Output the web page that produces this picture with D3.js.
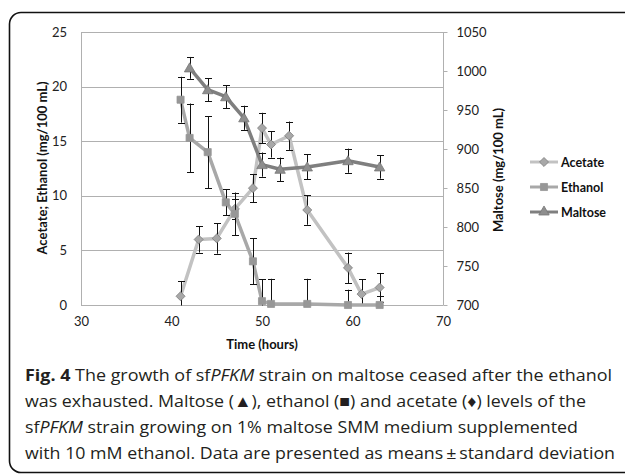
<!DOCTYPE html>
<html>
<head>
<meta charset="utf-8">
<script src="https://cdn.jsdelivr.net/npm/d3@7"></script>
<style>
  html, body { margin: 0; padding: 0; background: #fff; overflow: hidden; }
  svg { display: block; }
</style>
</head>
<body>
<svg id="chart" width="625" height="474"></svg>
<script>
// Sampling times (hours) and measured levels with standard deviations
const acetateTime = [41, 43, 45, 47, 49, 50, 51, 53, 55, 59.5, 61, 63];
const acetateMean = [0.8, 6.0, 6.1, 8.8, 10.7, 16.2, 14.7, 15.5, 8.7, 3.4, 1.0, 1.6];
const acetateSD   = [1.4, 1.2, 1.4, 0.9, 1.3, 1.4, 1.2, 1.3, 1.35, 1.4, 1.35, 1.3];

const ethanolTime = [41, 42, 44, 46, 47, 49, 50, 51, 55, 59.5, 63];
const ethanolMean = [18.8, 15.3, 14.0, 9.4, 8.35, 4.0, 0.35, 0.1, 0.1, 0.0, 0.0];
const ethanolSD   = [2.1, 3.15, 3.3, 1.2, 1.95, 2.1, 2.0, 2.3, 2.3, 1.4, 0.8];

const maltoseTime = [42, 44, 46, 48, 50, 52, 55, 59.5, 63];
const maltoseMean = [1004, 976, 967, 940, 880, 874, 877, 885, 877];
const maltoseSD   = [14, 15, 15, 15.5, 15.5, 15, 16, 15.5, 15];

const xTicks = [30, 40, 50, 60, 70];
const leftTicks = [0, 5, 10, 15, 20, 25];
const rightTicks = [700, 750, 800, 850, 900, 950, 1000, 1050];

const seriesNames = ["Acetate", "Ethanol", "Maltose"];

const svg = d3.select("#chart");
const plot = { left: 81, right: 443, top: 32, bottom: 305 };
const chartFont = "Lato, 'Open Sans', sans-serif";

const x = d3.scaleLinear().domain([30, 70]).range([plot.left, plot.right]);
const yL = d3.scaleLinear().domain([0, 25]).range([plot.bottom, plot.top]);
const yR = d3.scaleLinear().domain([700, 1050]).range([plot.bottom, plot.top]);

// Figure frame: open on the right, rounded on the left corners
svg.append("path")
  .attr("d", "M 640 12.5 H 21 A 11.5 11.5 0 0 0 9.5 24 V 461 A 11.5 11.5 0 0 0 21 472.5 H 640")
  .attr("fill", "none").attr("stroke", "#111").attr("stroke-width", 1.6);

// Horizontal gridlines from the primary axis
const gridG = svg.append("g");
gridG.selectAll("line").data(leftTicks).join("line")
  .attr("x1", plot.left).attr("x2", plot.right)
  .attr("y1", d => Math.round(yL(d)) + 0.5).attr("y2", d => Math.round(yL(d)) + 0.5)
  .attr("stroke", "#b0b0b0").attr("stroke-width", 1);

// Axis lines
svg.append("line").attr("x1", plot.left + 0.5).attr("x2", plot.left + 0.5)
  .attr("y1", plot.top).attr("y2", plot.bottom).attr("stroke", "#b0b0b0");
svg.append("line").attr("x1", plot.right + 0.5).attr("x2", plot.right + 0.5)
  .attr("y1", plot.top).attr("y2", plot.bottom + 0.5).attr("stroke", "#b0b0b0");

// Left axis labels
const axisL = d3.axisLeft(yL).tickValues(leftTicks).tickSize(0).tickPadding(14);
const gL = svg.append("g").attr("transform", `translate(${plot.left},0)`).call(axisL);
gL.select(".domain").remove();
gL.selectAll("text").attr("font-family", chartFont).attr("font-size", 13).attr("fill", "#222");

// Right axis with small outside ticks
const axisR = d3.axisRight(yR).tickValues(rightTicks).tickSize(4).tickPadding(9)
  .tickFormat(d3.format("d"));
const gR = svg.append("g").attr("transform", `translate(${plot.right + 0.5},0)`).call(axisR);
gR.select(".domain").remove();
gR.selectAll("line").attr("stroke", "#b0b0b0");
gR.selectAll("text").attr("font-family", chartFont).attr("font-size", 13).attr("fill", "#222");

// Bottom axis labels
const axisB = d3.axisBottom(x).tickValues(xTicks).tickSize(0).tickPadding(12);
const gB = svg.append("g").attr("transform", `translate(0,${plot.bottom})`).call(axisB);
gB.select(".domain").remove();
gB.selectAll("text").attr("font-family", chartFont).attr("font-size", 13).attr("fill", "#222");

// Axis titles
svg.append("text")
  .attr("transform", `translate(47,168) rotate(-90)`)
  .attr("text-anchor", "middle")
  .attr("font-family", chartFont).attr("font-weight", "bold").attr("font-size", 13)
  .attr("fill", "#111")
  .text("Acetate; Ethanol (mg/100 mL)");
svg.append("text")
  .attr("transform", `translate(503,170) rotate(-90)`)
  .attr("text-anchor", "middle")
  .attr("font-family", chartFont).attr("font-weight", "bold").attr("font-size", 13)
  .attr("fill", "#111")
  .text("Maltose (mg/100 mL)");
svg.append("text")
  .attr("x", (plot.left + plot.right) / 2).attr("y", 349)
  .attr("text-anchor", "middle")
  .attr("font-family", chartFont).attr("font-weight", "bold").attr("font-size", 13)
  .attr("fill", "#111")
  .text("Time (hours)");

// Clip region for error bars (they stop at the plot area)
svg.append("clipPath").attr("id", "plotClip")
  .append("rect").attr("x", plot.left).attr("y", plot.top)
  .attr("width", plot.right - plot.left).attr("height", plot.bottom - plot.top + 0.5);

const series = [
  { name: "Acetate", t: acetateTime, m: acetateMean, sd: acetateSD, y: yL,
    line: "#c2c2c2", fill: "#a8a8a8", stroke: "#7c7c7c", marker: "diamond" },
  { name: "Ethanol", t: ethanolTime, m: ethanolMean, sd: ethanolSD, y: yL,
    line: "#a8a8a8", fill: "#979797", stroke: "#979797", marker: "square" },
  { name: "Maltose", t: maltoseTime, m: maltoseMean, sd: maltoseSD, y: yR,
    line: "#7f7f7f", fill: "#8e8e8e", stroke: "#767676", marker: "triangle" }
];

const symbolFor = {
  diamond: d3.symbol().type(d3.symbolDiamond2).size(52),
  square: d3.symbol().type(d3.symbolSquare2).size(64),
  triangle: d3.symbol().type(d3.symbolTriangle2).size(78)
};

series.forEach(s => {
  const pts = s.t.map((t, i) => ({ t, m: s.m[i], sd: s.sd[i] }));
  const g = svg.append("g");

  g.append("path").datum(pts)
    .attr("d", d3.line().x(d => x(d.t)).y(d => s.y(d.m)))
    .attr("fill", "none").attr("stroke", s.line).attr("stroke-width", 3.5)
    .attr("stroke-linejoin", "round");

  const eb = g.append("g").attr("clip-path", "url(#plotClip)");
  eb.selectAll("line.v").data(pts).join("line").attr("class", "v")
    .attr("x1", d => Math.round(x(d.t)) + 0.5).attr("x2", d => Math.round(x(d.t)) + 0.5)
    .attr("y1", d => s.y(d.m - d.sd)).attr("y2", d => s.y(d.m + d.sd))
    .attr("stroke", "#111").attr("stroke-width", 1);
  ["top", "bot"].forEach(k => {
    eb.selectAll("line." + k).data(pts).join("line").attr("class", k)
      .attr("x1", d => Math.round(x(d.t)) - 3).attr("x2", d => Math.round(x(d.t)) + 4)
      .attr("y1", d => Math.round(s.y(k === "top" ? d.m + d.sd : d.m - d.sd)) + 0.5)
      .attr("y2", d => Math.round(s.y(k === "top" ? d.m + d.sd : d.m - d.sd)) + 0.5)
      .attr("stroke", "#111").attr("stroke-width", 1);
  });

  g.selectAll("path.mk").data(pts).join("path").attr("class", "mk")
    .attr("transform", d => `translate(${x(d.t)},${s.y(d.m) + (s.marker === "triangle" ? 1 : 0)})`)
    .attr("d", symbolFor[s.marker])
    .attr("fill", s.fill).attr("stroke", s.stroke).attr("stroke-width", 0.8);
});

// Legend
const legend = svg.append("g");
series.forEach((s, i) => {
  const ly = 162 + i * 25;
  const lg = legend.append("g").attr("transform", `translate(530,${ly})`);
  lg.append("line").attr("x1", 0).attr("x2", 28).attr("y1", 0).attr("y2", 0)
    .attr("stroke", s.line).attr("stroke-width", 3);
  lg.append("path").attr("transform", "translate(14,0)")
    .attr("d", symbolFor[s.marker])
    .attr("fill", s.fill).attr("stroke", s.stroke).attr("stroke-width", 0.8);
  lg.append("text").attr("x", 31).attr("y", 4.5)
    .attr("font-family", chartFont).attr("font-weight", "bold").attr("font-size", 12.5)
    .attr("fill", "#111").text(seriesNames[i]);
});

// Caption
const capFont = "'Open Sans', 'Noto Sans', sans-serif";
const captionLines = [
  { y: 381, w: 587, parts: [["Fig. 4", "bold", "normal"], [" The growth of sf", "normal", "normal"], ["PFKM", "normal", "italic"], [" strain on maltose ceased after the ethanol", "normal", "normal"]] },
  { y: 407, w: 561, parts: [["was exhausted. Maltose (\u25B2), ethanol (\u25A0) and acetate (\u2666) levels of the", "normal", "normal"]] },
  { y: 433, w: 553, parts: [["sf", "normal", "normal"], ["PFKM", "normal", "italic"], [" strain growing on 1% maltose SMM medium supplemented", "normal", "normal"]] },
  { y: 459, w: 590, parts: [["with 10 mM ethanol. Data are presented as means\u2009\u00B1\u2009standard deviation", "normal", "normal"]] }
];
captionLines.forEach(l => {
  const t = svg.append("text").attr("x", 25).attr("y", l.y)
    .attr("font-family", capFont).attr("font-size", 16.5).attr("fill", "#231f20")
    .attr("textLength", l.w).attr("lengthAdjust", "spacingAndGlyphs");
  l.parts.forEach(p => {
    t.append("tspan").attr("font-weight", p[1]).attr("font-style", p[2]).text(p[0]);
  });
});
</script>
</body>
</html>
